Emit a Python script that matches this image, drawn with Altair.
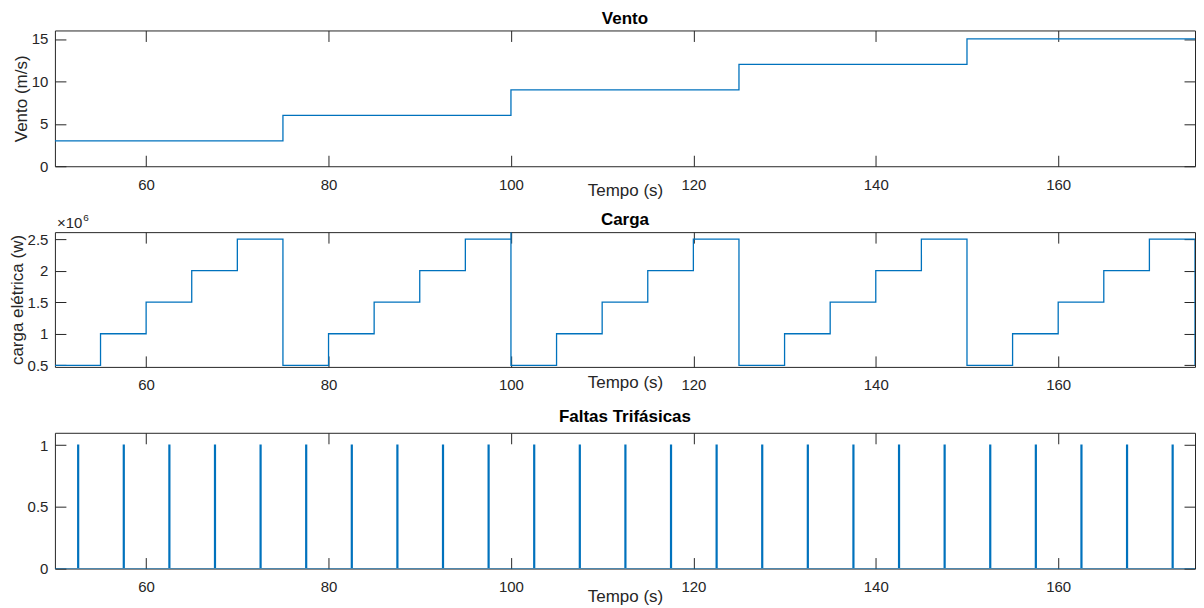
import altair as alt
import pandas as pd

# ---------------- data ----------------
time_start = 50
time_end = 175

wind_change_times = [50, 75, 100, 125, 150]
wind_levels = [3, 6, 9, 12, 15]

load_change_times = [50, 55, 60, 65, 70, 75, 80, 85, 90, 95, 100, 105, 110,
                     115, 120, 125, 130, 135, 140, 145, 150, 155, 160, 165, 170]
load_levels = [0.5e6, 1.0e6, 1.5e6, 2.0e6, 2.5e6,
               0.5e6, 1.0e6, 1.5e6, 2.0e6, 2.5e6,
               0.5e6, 1.0e6, 1.5e6, 2.0e6, 2.5e6,
               0.5e6, 1.0e6, 1.5e6, 2.0e6, 2.5e6,
               0.5e6, 1.0e6, 1.5e6, 2.0e6, 2.5e6]
load_spike_time = 100
load_spike_value = 2.61e6
load_final_value = 0.5e6

fault_times = [52.5, 57.5, 62.5, 67.5, 72.5, 77.5, 82.5, 87.5, 92.5, 97.5,
               102.5, 107.5, 112.5, 117.5, 122.5, 127.5, 132.5, 137.5, 142.5,
               147.5, 152.5, 157.5, 162.5, 167.5, 172.5]
fault_duration = 0.1

x_ticks = [60, 80, 100, 120, 140, 160]
wind_ticks = [0, 5, 10, 15]
load_ticks = [0.5e6, 1.0e6, 1.5e6, 2.0e6, 2.5e6]
fault_ticks = [0, 0.5, 1]

panel_titles = ["Vento", "Carga", "Faltas Trifásicas"]
x_title = "Tempo (s)"
y_titles = ["Vento (m/s)", "carga elétrica (w)", ""]
exponent_base = "×10"
exponent_power = "6"

# ---------------- tables ----------------
wind_rows = [(t, v) for t, v in zip(wind_change_times, wind_levels)]
wind_rows.append((time_end, wind_levels[-1]))
wind_df = pd.DataFrame({"t": [r[0] for r in wind_rows],
                        "v": [r[1] for r in wind_rows],
                        "i": list(range(len(wind_rows)))})

load_rows = []
for t, v in zip(load_change_times, load_levels):
    if t == load_spike_time:
        load_rows.append((t, load_spike_value))
    load_rows.append((t, v))
load_rows.append((time_end, load_final_value))
load_df = pd.DataFrame({"t": [r[0] for r in load_rows],
                        "v": [r[1] for r in load_rows],
                        "i": list(range(len(load_rows)))})

fault_rows = [(time_start, 0)]
for t in fault_times:
    fault_rows += [(t, 0), (t, 1), (t + fault_duration, 1), (t + fault_duration, 0)]
fault_rows.append((time_end, 0))
fault_df = pd.DataFrame({"t": [r[0] for r in fault_rows],
                         "v": [r[1] for r in fault_rows],
                         "i": list(range(len(fault_rows)))})

# ---------------- style ----------------
FONT = "Liberation Sans"
BLUE = "#0072BD"
AX = "#262626"
W = 1142
TICK = 11
H1, H2, H3 = 136, 135, 136


def x_axis(h, title_y):
    return alt.Axis(values=x_ticks, format="d", title=x_title,
                    grid=True, gridDash=[TICK, h - 2 * TICK, TICK],
                    gridColor=AX, gridWidth=1, gridOpacity=1,
                    domain=False, ticks=False, labelPadding=11,
                    labelFontSize=15, labelColor=AX, labelFont=FONT,
                    labelFlush=False,
                    titleFont=FONT, titleFontSize=17, titleFontWeight="normal",
                    titleColor=AX, titleY=title_y, titleBaseline="alphabetic")


def y_axis(values, title, title_x, label_expr):
    return alt.Axis(values=values, title=title,
                    grid=True, gridDash=[TICK, W - 2 * TICK, TICK],
                    gridColor=AX, gridWidth=1, gridOpacity=1,
                    domain=False, ticks=False, labelPadding=7,
                    labelFontSize=15, labelColor=AX, labelFont=FONT,
                    labelFlush=False, labelExpr=label_expr,
                    titleFont=FONT, titleFontSize=17, titleFontWeight="normal",
                    titleColor=AX, titleX=title_x, titleBaseline="middle")


def panel_title(text, y):
    return alt.Chart(pd.DataFrame({"s": [text]})).mark_text(
        font=FONT, fontSize=17, fontWeight="bold", color="black",
        align="center", baseline="alphabetic"
    ).encode(x=alt.value(W / 2), y=alt.value(y), text="s:N")


xscale = alt.Scale(domain=[time_start, time_end], nice=False, zero=False)

wind_line = alt.Chart(wind_df).mark_line(
    interpolate="step-after", color=BLUE, strokeWidth=1.3, clip=True
).encode(
    x=alt.X("t:Q", scale=xscale, axis=x_axis(H1, 29)),
    y=alt.Y("v:Q", scale=alt.Scale(domain=[0, 16], nice=False),
            axis=y_axis(wind_ticks, y_titles[0], -33, "datum.value")),
    order=alt.Order("i:Q"),
)
wind = alt.layer(wind_line, panel_title(panel_titles[0], -6)).properties(
    width=W, height=H1)

load_line = alt.Chart(load_df).mark_line(
    interpolate="step-after", color=BLUE, strokeWidth=1.3, clip=True
).encode(
    x=alt.X("t:Q", scale=xscale, axis=x_axis(H2, 21)),
    y=alt.Y("v:Q", scale=alt.Scale(domain=[0.475e6, load_spike_value], nice=False, zero=False),
            axis=y_axis(load_ticks, y_titles[1], -37, "datum.value / 1000000")),
    order=alt.Order("i:Q"),
)
exp_base = alt.Chart(pd.DataFrame({"s": [exponent_base]})).mark_text(
    font=FONT, fontSize=15, color=AX, align="left", baseline="alphabetic"
).encode(x=alt.value(2), y=alt.value(-4), text="s:N")
exp_sup = alt.Chart(pd.DataFrame({"s": [exponent_power]})).mark_text(
    font=FONT, fontSize=10, color=AX, align="left", baseline="alphabetic"
).encode(x=alt.value(28.5), y=alt.value(-11), text="s:N")
load = alt.layer(load_line, exp_base, exp_sup,
                 panel_title(panel_titles[1], -7)).properties(width=W, height=H2)

fault_line = alt.Chart(fault_df).mark_line(
    color=BLUE, strokeWidth=1.3, clip=True
).encode(
    x=alt.X("t:Q", scale=xscale, axis=x_axis(H3, 33)),
    y=alt.Y("v:Q", scale=alt.Scale(domain=[0, 1.1], nice=False),
            axis=y_axis(fault_ticks, y_titles[2], -33, "datum.value")),
    order=alt.Order("i:Q"),
)
faults = alt.layer(fault_line, panel_title(panel_titles[2], -11)).properties(
    width=W, height=H3)

chart = alt.vconcat(wind, load, faults, spacing=66, bounds="flush").properties(
    padding={"left": 0, "top": 1, "right": 0, "bottom": 0}
).configure(background="white").configure_view(stroke=AX, strokeWidth=1)

chart.save("out.html", embed_options={"renderer": "svg", "actions": False})
